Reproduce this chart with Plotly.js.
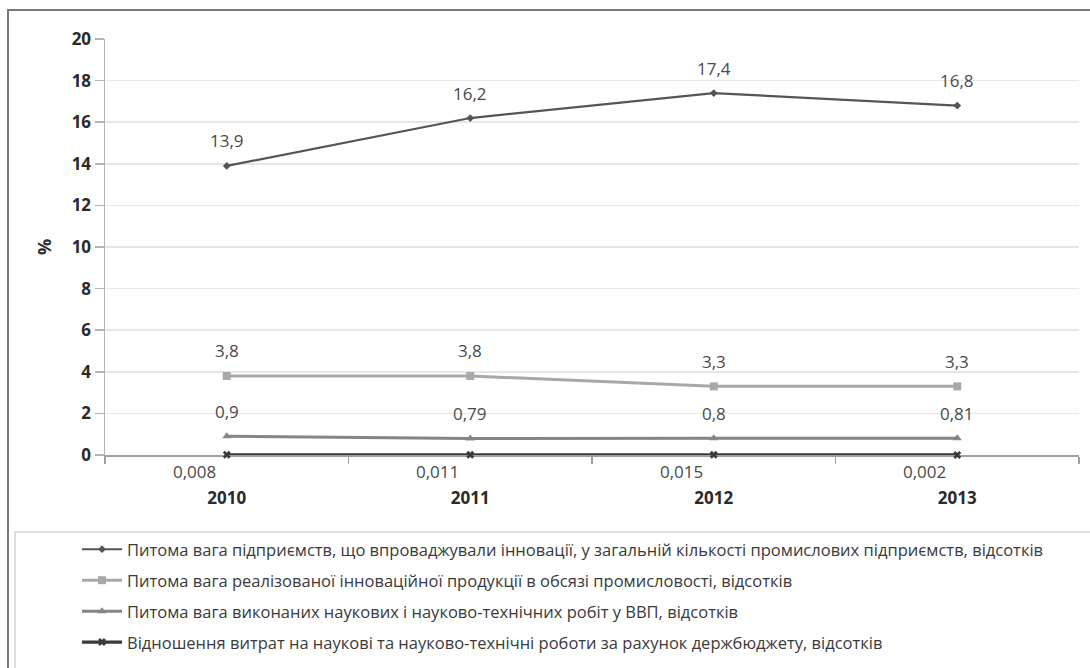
<!DOCTYPE html>
<html>
<head>
<meta charset="utf-8">
<script src="https://cdn.plot.ly/plotly-3.0.1.min.js"></script>
<style>html,body{margin:0;padding:0;background:#fff;}#chart{width:1090px;height:668px;}</style>
</head>
<body>
<div id="chart"></div>
<script>
const years = ['2010', '2011', '2012', '2013'];
const seriesNames = [
  'Питома вага підприємств, що впроваджували інновації, у загальній кількості промислових підприємств, відсотків',
  'Питома вага реалізованої інноваційної продукції в обсязі промисловості, відсотків',
  'Питома вага виконаних наукових і науково-технічних робіт у ВВП, відсотків',
  'Відношення витрат на наукові та науково-технічні роботи за рахунок держбюджету, відсотків'
];
const innovEnterprises = [13.9, 16.2, 17.4, 16.8];
const innovProducts = [3.8, 3.8, 3.3, 3.3];
const researchGdp = [0.9, 0.79, 0.8, 0.81];
const budgetResearch = [0.008, 0.011, 0.015, 0.002];
const yAxisLabel = '%';

const allSeries = [innovEnterprises, innovProducts, researchGdp, budgetResearch];
const colors = ['#555555', '#a8a8a8', '#858585', '#3a3a3a'];
const widths = [2.2, 3, 3, 3.2];
const symbols = ['diamond', 'square', 'triangle-up', 'x'];
const sizes = [6, 8, 8, 7];

const traces = allSeries.map((vals, i) => ({
  type: 'scatter', mode: 'lines+markers',
  x: years, y: vals, name: seriesNames[i],
  legendgroup: 'g' + i, cliponaxis: false,
  line: {color: colors[i], width: widths[i]},
  marker: {symbol: symbols[i], size: sizes[i], color: colors[i]},
  hoverinfo: 'skip'
}));

const fmt = v => String(v).replace('.', ',');
const pw = 974, ph = 416;
const annotations = [];
allSeries.forEach((vals, i) => {
  vals.forEach((v, j) => {
    const base = {x: j, y: v, xref: 'x', yref: 'y', text: fmt(v), showarrow: false,
      font: {family: 'Open Sans', size: 17, color: '#4a4a4a'}};
    if (i < 3) {
      annotations.push(Object.assign(base, {xanchor: 'center', yanchor: 'middle', yshift: 25}));
    } else {
      annotations.push(Object.assign(base, {xanchor: 'right', yanchor: 'middle', yshift: -17, xshift: -9}));
    }
  });
});
annotations.push({xref: 'paper', yref: 'paper', x: (44 - 105) / pw, y: 0.5, text: yAxisLabel,
  showarrow: false, textangle: -90, xanchor: 'center', yanchor: 'middle',
  font: {family: 'Open Sans', size: 18, color: '#2a2a2a', weight: 'bold'}});

const shapes = [
  {type: 'rect', xref: 'paper', yref: 'paper', x0: (8 - 105) / pw, x1: 1.2, y0: -1, y1: (455 - 10) / ph,
   line: {color: '#7a7a7a', width: 2}, fillcolor: 'rgba(0,0,0,0)', layer: 'below'},
  {type: 'rect', xref: 'paper', yref: 'paper', x0: (15 - 105) / pw, x1: 1.2, y0: -1, y1: (455 - 532) / ph,
   line: {color: '#d4d4d4', width: 1.5}, fillcolor: 'rgba(0,0,0,0)', layer: 'below'}
];

const layout = {
  width: 1090, height: 668,
  margin: {l: 105, r: 11, t: 39, b: 213, autoexpand: false},
  paper_bgcolor: '#ffffff', plot_bgcolor: '#ffffff',
  separators: ', ',
  showlegend: true,
  legend: {
    xref: 'container', yref: 'container', x: 77 / 1090, y: 1 - 532 / 668,
    xanchor: 'left', yanchor: 'top',
    font: {family: 'Open Sans', size: 16.5, color: '#3a3a3a'},
    tracegroupgap: 6.5, bgcolor: 'rgba(0,0,0,0)', borderwidth: 0,
    itemwidth: 40
  },
  xaxis: {
    type: 'category', range: [-0.5, 3.5], tickson: 'boundaries',
    showgrid: false, showline: true, linecolor: '#a0a0a0', linewidth: 1.5,
    ticks: 'outside', ticklen: 7, tickcolor: '#a0a0a0', tickwidth: 1.5,
    tickfont: {family: 'Open Sans', size: 17, color: '#2a2a2a', weight: 'bold'},
    ticklabelstandoff: 27, zeroline: false, layer: 'below traces'
  },
  yaxis: {
    range: [0, 20], dtick: 2, tick0: 0,
    showgrid: true, gridcolor: '#e6e6e6', gridwidth: 1.5,
    showline: true, linecolor: '#b5b5b5', linewidth: 1.5,
    ticks: 'outside', ticklen: 9, tickcolor: '#b5b5b5', tickwidth: 1.5,
    tickfont: {family: 'Open Sans', size: 17, color: '#2a2a2a', weight: 'bold'},
    zeroline: false, layer: 'below traces'
  },
  annotations: annotations,
  shapes: shapes
};

Plotly.newPlot('chart', traces, layout, {displayModeBar: false, staticPlot: true});
</script>
</body>
</html>
